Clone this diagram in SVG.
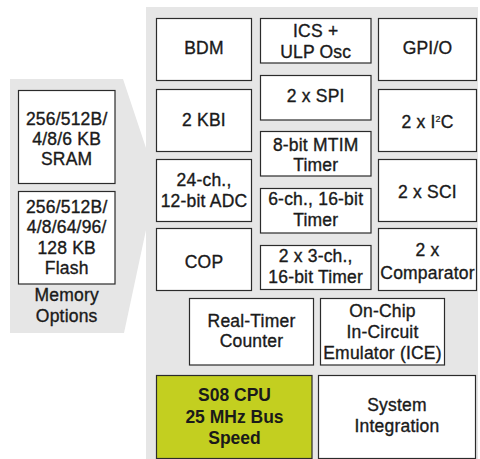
<svg xmlns="http://www.w3.org/2000/svg" width="480" height="459" viewBox="0 0 480 459">
<style>
.bg{fill:#e6e6e6}
.box{fill:#ffffff;stroke:#2b2b2b;stroke-width:1.2}
.cpu{fill:#c3cf20;stroke:#2b2b2b;stroke-width:1.2}
text{font-family:"Liberation Sans",Arial,sans-serif;font-size:17.5px;fill:#1a1a1a;stroke:#1a1a1a;stroke-width:0.35;text-anchor:middle;letter-spacing:0.2px}
.b{font-weight:bold;stroke:none;letter-spacing:0}
</style>
<rect width="480" height="459" fill="#ffffff"/>
<g id="panels">
<rect class="bg" x="146" y="7" width="332" height="452"/>
<polygon class="bg" points="10,79 123,79 146,148 146,230 124,333 10,333"/>
</g>
<g id="connectors"></g>
<g id="sram"><rect class="box" x="18.5" y="90.5" width="96.5" height="93"/>
<text x="66.7" y="124.5">256/512B/</text><text x="66.7" y="144.5">4/8/6 KB</text><text x="66.7" y="164.5">SRAM</text></g>
<g id="flash"><rect class="box" x="18.5" y="191.5" width="96.5" height="92.5"/>
<text x="66.7" y="212.5">256/512B/</text><text x="66.7" y="233">4/8/64/96/</text><text x="66.7" y="253.5">128 KB</text><text x="66.7" y="274">Flash</text></g>
<g id="memory-label"><text x="66.7" y="301">Memory</text><text x="66.7" y="322">Options</text></g>
<g id="bdm"><rect class="box" x="156.5" y="18.5" width="95" height="62"/><text x="204" y="54">BDM</text></g>
<g id="ics"><rect class="box" x="260.5" y="18.5" width="110.5" height="44.5"/><text x="315.7" y="36.7">ICS +</text><text x="315.7" y="58">ULP Osc</text></g>
<g id="gpio"><rect class="box" x="378.5" y="18.5" width="98" height="62"/><text x="427.5" y="54">GPI/O</text></g>
<g id="kbi"><rect class="box" x="156.5" y="89.5" width="95" height="62"/><text x="204" y="126">2 KBI</text></g>
<g id="spi"><rect class="box" x="260.5" y="75.5" width="110.5" height="44.5"/><text x="315.7" y="102">2 x SPI</text></g>
<g id="i2c"><rect class="box" x="378.5" y="89.5" width="98" height="62"/><text x="427.5" y="128">2 x I<tspan font-size="9" stroke-width="0.2" dy="-6.5">2</tspan><tspan dy="6.5">C</tspan></text></g>
<g id="mtim"><rect class="box" x="260.5" y="131.5" width="110.5" height="44.5"/><text x="315.7" y="150.5">8-bit MTIM</text><text x="315.7" y="170.5">Timer</text></g>
<g id="adc"><rect class="box" x="156.5" y="159.5" width="95" height="62"/><text x="204" y="186">24-ch.,</text><text x="204" y="207">12-bit ADC</text></g>
<g id="tpm6"><rect class="box" x="260.5" y="188.5" width="110.5" height="44.5"/><text x="315.7" y="205">6-ch., 16-bit</text><text x="315.7" y="225.5">Timer</text></g>
<g id="sci"><rect class="box" x="378.5" y="159.5" width="98" height="62"/><text x="427.5" y="198">2 x SCI</text></g>
<g id="cop"><rect class="box" x="156.5" y="228.5" width="95" height="62"/><text x="204" y="268">COP</text></g>
<g id="tpm3"><rect class="box" x="260.5" y="245.5" width="110.5" height="44"/><text x="315.7" y="262">2 x 3-ch.,</text><text x="315.7" y="282.5">16-bit Timer</text></g>
<g id="acmp"><rect class="box" x="378.5" y="228.5" width="98" height="62"/><text x="427.5" y="256">2 x</text><text x="427.5" y="278.5">Comparator</text></g>
<g id="rtc"><rect class="box" x="189.5" y="298.5" width="124" height="66.5"/><text x="251.5" y="326.7">Real-Timer</text><text x="251.5" y="347">Counter</text></g>
<g id="ice"><rect class="box" x="320.5" y="298.5" width="124" height="66.5"/><text x="382.5" y="316.7">On-Chip</text><text x="382.5" y="338">In-Circuit</text><text x="382.5" y="359.3">Emulator (ICE)</text></g>
<g id="cpu"><rect class="cpu" x="156.5" y="375.5" width="155.5" height="83"/><text class="b" x="234.5" y="401">S08 CPU</text><text class="b" x="234.5" y="422.5">25 MHz Bus</text><text class="b" x="234.5" y="443.5">Speed</text></g>
<g id="sysint"><rect class="box" x="318.5" y="375.5" width="157" height="83"/><text x="397" y="411">System</text><text x="397" y="431.7">Integration</text></g>
</svg>
